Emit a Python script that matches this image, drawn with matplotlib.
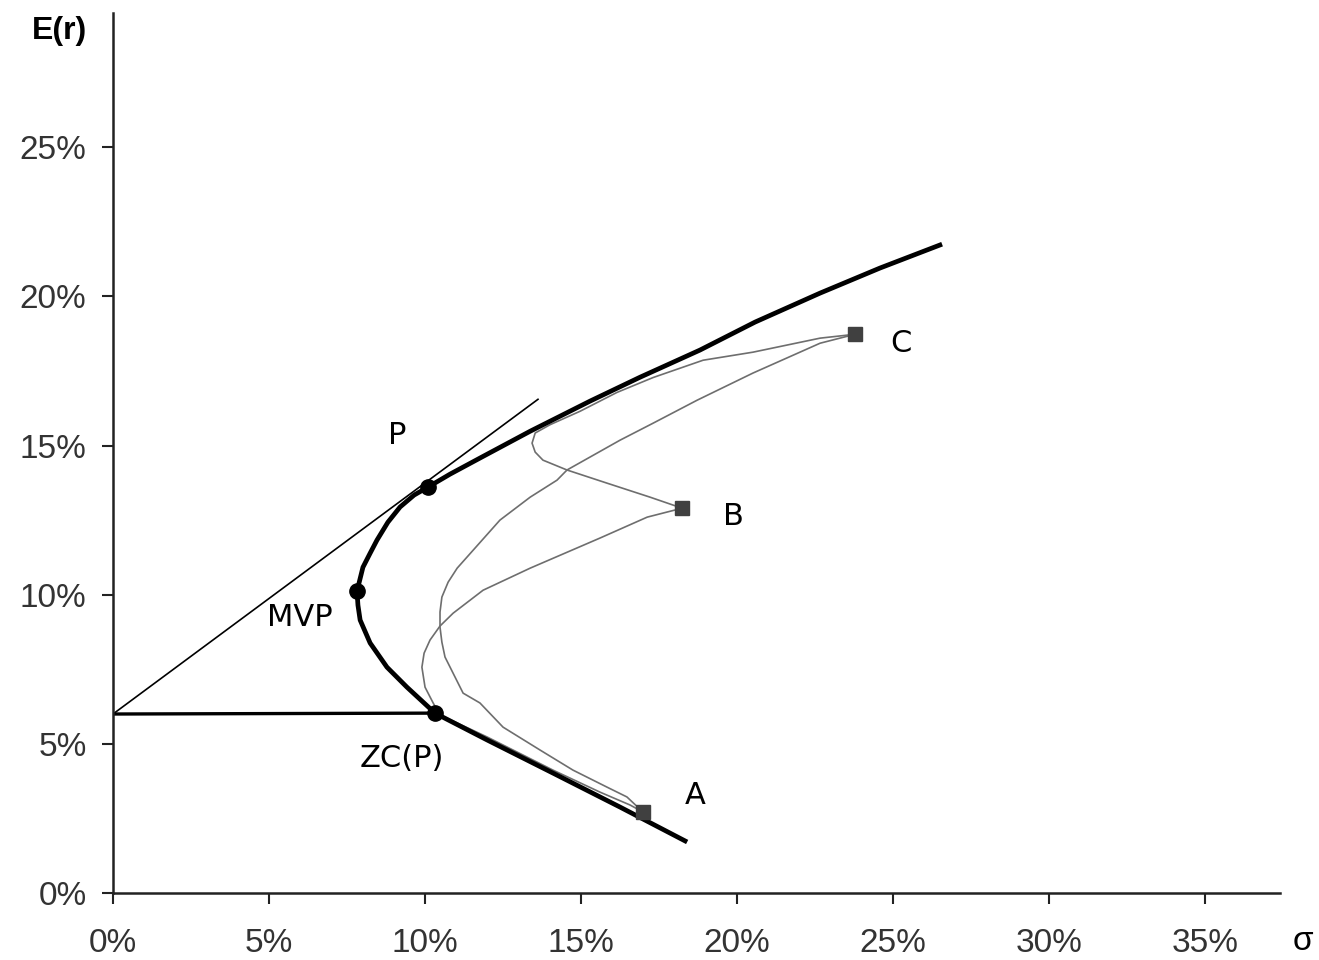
import matplotlib
matplotlib.use("Agg")
import matplotlib.pyplot as plt
from matplotlib.ticker import FixedLocator, FuncFormatter

plt.rcParams['font.family'] = ['Liberation Sans', 'DejaVu Sans']

# efficient frontier (sigma %, E(r) %)
frontier_sd = [18.40, 16.25, 14.10, 11.99, 10.32, 9.42, 8.78, 8.24, 7.92, 7.85, 7.82, 8.01, 8.24,
               8.46, 8.81, 9.20, 9.65, 10.10, 10.80, 11.76, 13.37, 15.29, 16.89, 18.81, 20.58,
               22.66, 24.58, 26.57]
frontier_er = [1.71, 2.88, 4.02, 5.13, 6.03, 6.90, 7.57, 8.38, 9.15, 9.65, 10.12, 10.92, 11.39,
               11.83, 12.43, 12.94, 13.34, 13.61, 14.04, 14.58, 15.48, 16.49, 17.29, 18.20, 19.14,
               20.11, 20.95, 21.75]

# two-asset combination curves
bc_sd = [23.78, 22.66, 20.51, 18.91, 17.31, 16.15, 14.97, 14.01, 13.53, 13.43, 13.53, 13.78,
         14.55, 15.83, 17.21, 18.24]
bc_er = [18.73, 18.60, 18.13, 17.86, 17.28, 16.78, 16.15, 15.70, 15.42, 15.08, 14.78, 14.51,
         14.18, 13.74, 13.27, 12.90]

ac_sd = [23.78, 22.66, 20.51, 18.72, 17.31, 16.25, 14.55, 14.23, 13.37, 12.40, 11.03, 10.74,
         10.54, 10.48, 10.48, 10.54, 10.64, 11.22, 11.76, 12.50, 13.69, 14.74, 15.83, 16.47, 16.99]
ac_er = [18.73, 18.43, 17.43, 16.52, 15.75, 15.18, 14.18, 13.84, 13.27, 12.50, 10.89, 10.42,
         9.92, 9.42, 8.91, 8.41, 7.91, 6.70, 6.37, 5.56, 4.79, 4.12, 3.55, 3.22, 2.71]

ab_sd = [18.24, 17.12, 15.61, 13.37, 11.86, 10.90, 10.48, 10.16, 9.97, 9.90, 10.00, 10.26,
         10.48, 11.99, 14.10, 15.61, 16.57, 16.99]
ab_er = [12.90, 12.60, 11.90, 10.89, 10.15, 9.38, 8.95, 8.48, 8.04, 7.57, 6.90, 6.37,
         5.97, 5.23, 4.12, 3.38, 2.95, 2.71]

# assets
asset_names = ["A", "B", "C"]
asset_sd = [16.99, 18.24, 23.78]
asset_er = [2.71, 12.90, 18.73]

# special portfolios
port_names = ["P", "MVP", "ZC(P)"]
port_sd = [10.10, 7.82, 10.32]
port_er = [13.61, 10.12, 6.03]

rf = 6.0
tangent_sd = [0.0, 13.62]
tangent_er = [rf, 16.55]

x_ticks = [0, 5, 10, 15, 20, 25, 30, 35]
y_ticks = [0, 5, 10, 15, 20, 25]

fig = plt.figure(figsize=(13.19, 9.6), dpi=100)
ax = fig.add_axes([113 / 1319, 67 / 960, 1167 / 1319, 880 / 960])

ax.plot(ab_sd, ab_er, color="#6e6e6e", lw=1.2)
ax.plot(ac_sd, ac_er, color="#6e6e6e", lw=1.2)
ax.plot(bc_sd, bc_er, color="#6e6e6e", lw=1.2)

ax.plot(tangent_sd, tangent_er, color="black", lw=1.2)
ax.plot([0, port_sd[2]], [rf, port_er[2]], color="black", lw=2.4)
ax.plot(frontier_sd, frontier_er, color="black", lw=3.4, solid_capstyle="butt",
        solid_joinstyle="round")

ax.plot(asset_sd, asset_er, "s", color="#404040", ms=10, ls="none")
ax.plot(port_sd, port_er, "o", color="black", ms=11, ls="none")

lbl = dict(fontsize=22, ha="center", va="center", family="DejaVu Sans")
ax.text(9.10, 15.35, "P", **lbl)
ax.text(5.99, 9.22, "MVP", **lbl)
ax.text(9.26, 4.52, "ZC(P)", **lbl)
ax.text(18.65, 3.28, "A", **lbl)
ax.text(19.87, 12.63, "B", **lbl)
ax.text(25.26, 18.43, "C", **lbl)

ax.set_xlim(0, 37.4)
ax.set_ylim(0, 29.5)
ax.xaxis.set_major_locator(FixedLocator(x_ticks))
ax.yaxis.set_major_locator(FixedLocator(y_ticks))
pct = FuncFormatter(lambda v, pos: "%d%%" % v)
ax.xaxis.set_major_formatter(pct)
ax.yaxis.set_major_formatter(pct)

ax.spines['top'].set_visible(False)
ax.spines['right'].set_visible(False)
for side in ['left', 'bottom']:
    ax.spines[side].set_linewidth(1.8)
    ax.spines[side].set_color("#222222")
ax.tick_params(axis='x', direction='out', length=8, width=1.5, pad=17, labelsize=24,
               labelcolor="#333333", color="#222222")
ax.tick_params(axis='y', direction='out', length=8, width=1.5, pad=11, labelsize=24,
               labelcolor="#333333", color="#222222")

fig.text(60 / 1319, 1 - 31 / 960, "E(r)", fontsize=23, fontweight="bold", ha="center", va="center")
fig.text(1303 / 1319, 18 / 960, "\u03c3", fontsize=24, ha="center", va="center")

fig.savefig("out.png", dpi=100)
